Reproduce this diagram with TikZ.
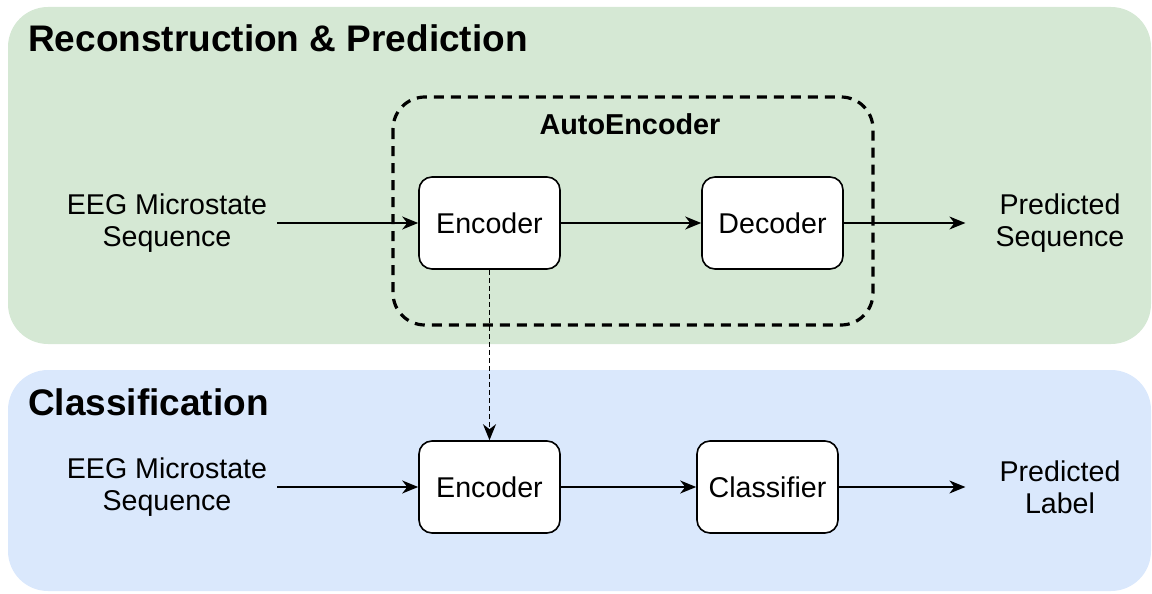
\documentclass[tikz,border=0pt]{standalone}
\usepackage{fontspec}
\setmainfont{Liberation Sans}
\usetikzlibrary{arrows.meta}
\newcommand{\bodyfont}{\fontsize{28.6}{32}\selectfont}
\newcommand{\titlefont}{\fontsize{37}{40}\selectfont\bfseries}
\newcommand{\aefont}{\fontsize{28.8}{32}\selectfont\bfseries}
\definecolor{pgreen}{HTML}{D5E8D4}
\definecolor{pblue}{HTML}{DAE8FC}
\tikzset{
  panel/.style={draw=none, rounded corners=40pt},
  blk/.style={draw, line width=1.6pt, rounded corners=13pt, fill=white,
    minimum width=141pt, minimum height=92pt, inner sep=0pt, font=\bodyfont},
  lbl/.style={align=center, inner sep=0pt, font=\bodyfont},
  ttl/.style={anchor=base west, inner sep=0pt, font=\titlefont},
  arr/.style={-{Stealth[length=16pt,width=13pt,inset=5pt]}, line width=1.5pt},
  dotarr/.style={-{Stealth[length=16pt,width=13pt,inset=5pt]}, line width=1.4pt,
    dash pattern=on 5pt off 3pt},
  aebox/.style={line width=3.2pt, dash pattern=on 10pt off 7pt, rounded corners=32pt},
}
\begin{document}
\begin{tikzpicture}[x=1pt,y=-1pt]
\useasboundingbox (0,0) rectangle (1152,594);
% panels
\fill[pgreen, panel] (8,7) rectangle (1151,344);
\fill[pblue, panel] (8,370) rectangle (1151,591);
\node[ttl] (t1) at (28,52) {Reconstruction \& Prediction};
\node[ttl] (t2) at (28,415) {Classification};
% autoencoder box
\draw[aebox] (393,97) rectangle (873,325);
\node[font=\aefont, inner sep=0pt] (ae) at (630,124) {AutoEncoder};
% top row
\node[lbl] (inA) at (167,223) {EEG Microstate\\Sequence};
\node[blk] (enc) at (489.5,223) {Encoder};
\node[blk] (dec) at (772.5,223) {Decoder};
\node[lbl] (outA) at (1060,223) {Predicted\\Sequence};
% bottom row
\node[lbl] (inB) at (167,487) {EEG Microstate\\Sequence};
\node[blk] (enc2) at (489.5,487) {Encoder};
\node[blk] (cls) at (767.5,487) {Classifier};
\node[lbl] (outB) at (1060,487) {Predicted\\Label};
% connectors
\draw[arr, shorten <=10pt] (inA.east) -- (enc.west);
\draw[arr] (enc.east) -- (dec.west);
\draw[arr, shorten >=30pt] (dec.east) -- (dec.east -| outA.west);
\draw[arr, shorten <=10pt] (inB.east) -- (enc2.west);
\draw[arr] (enc2.east) -- (cls.west);
\draw[arr, shorten >=30pt] (cls.east) -- (cls.east -| outA.west);
\draw[dotarr] (enc.south) -- (enc2.north);
\end{tikzpicture}
\end{document}
